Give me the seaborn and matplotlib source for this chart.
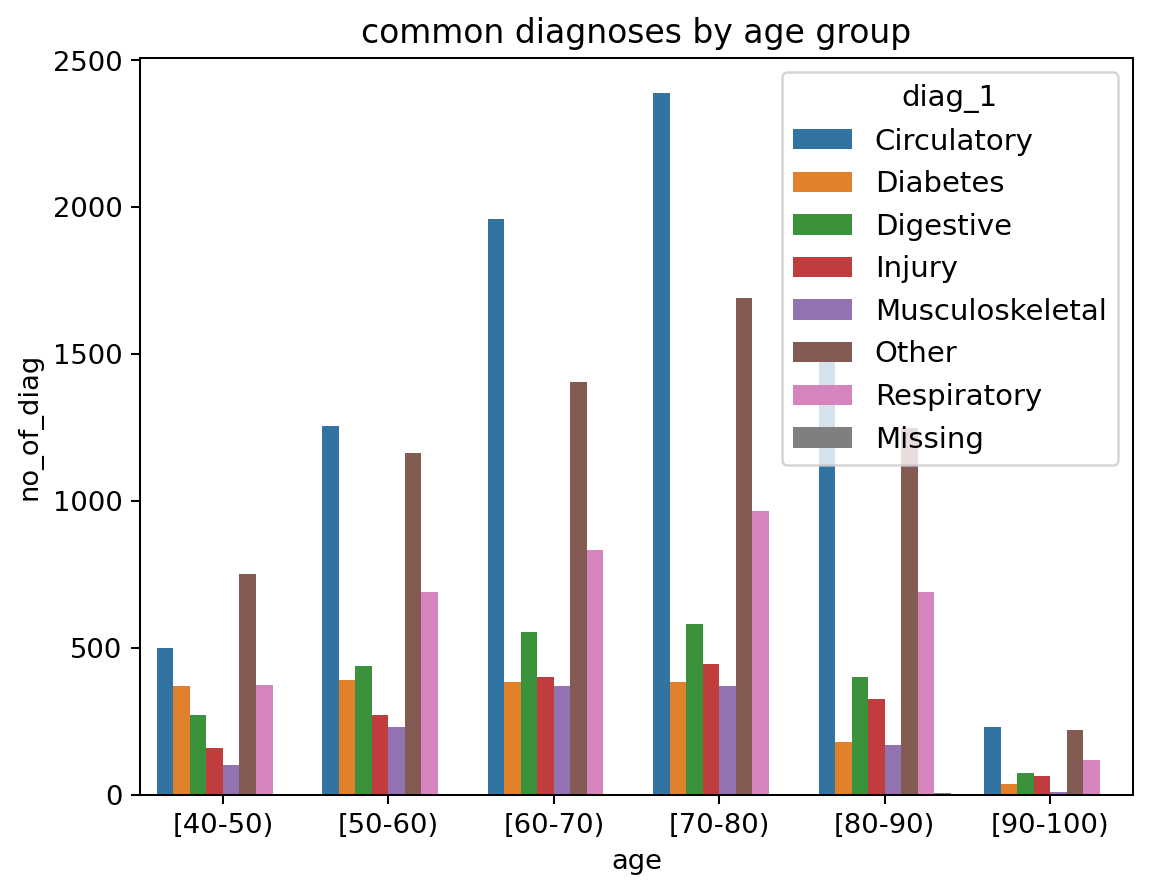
import seaborn as sns
import matplotlib.pyplot as plt
import pandas as pd

ages = ['[40-50)', '[50-60)', '[60-70)', '[70-80)', '[80-90)', '[90-100)']
diags = ['Circulatory', 'Diabetes', 'Digestive', 'Injury', 'Musculoskeletal',
         'Other', 'Respiratory', 'Missing']

circulatory = [500, 1255, 1960, 2390, 1480, 230]
diabetes = [370, 390, 385, 385, 180, 35]
digestive = [270, 440, 555, 580, 400, 75]
injury = [160, 270, 400, 445, 325, 65]
musculo = [100, 230, 370, 370, 170, 8]
other = [750, 1165, 1405, 1690, 1250, 220]
respiratory = [375, 690, 835, 965, 690, 120]
missing = [0, 0, 0, 0, 5, 0]

series = [circulatory, diabetes, digestive, injury, musculo, other, respiratory, missing]
rows = []
for d, vals in zip(diags, series):
    for a, v in zip(ages, vals):
        rows.append({'age': a, 'diag_1': d, 'no_of_diag': v})
df = pd.DataFrame(rows)

plt.rcParams['font.size'] = 10.8
fig, ax = plt.subplots(figsize=(6.4, 4.866), dpi=182.5)
sns.barplot(data=df, x='age', y='no_of_diag', hue='diag_1', order=ages, hue_order=diags, ax=ax)
ax.set_title('common diagnoses by age group', fontsize=13)
sns.move_legend(ax, 'upper right', fontsize=11.5, title_fontsize=11.5)
fig.subplots_adjust(left=0.12, right=0.97, top=0.935, bottom=0.105)
plt.savefig('out.png')
